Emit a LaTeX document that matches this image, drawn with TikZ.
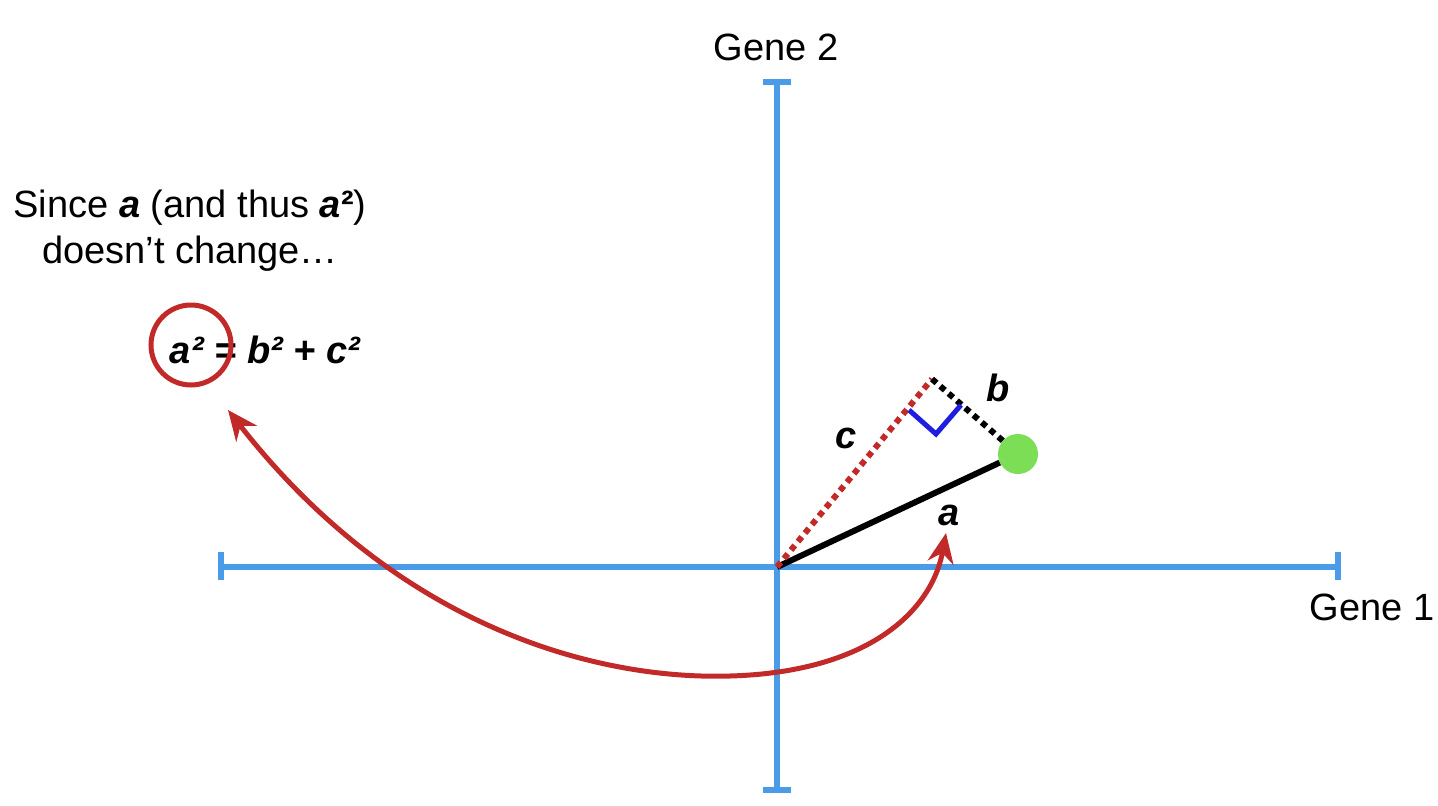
\documentclass[tikz,border=0pt]{standalone}
\usepackage{fontspec}
\setmainfont{Liberation Sans}
\usetikzlibrary{arrows.meta}
\definecolor{axisblue}{RGB}{74,155,232}
\definecolor{arrred}{RGB}{194,42,42}
\definecolor{dotgreen}{RGB}{124,222,84}
\definecolor{markblue}{RGB}{30,30,225}
\tikzset{
  axis/.style={axisblue, line width=6pt},
  tickbar/.style={axisblue, line width=6pt},
  lbl/.style={font=\fontsize{38}{46}\selectfont, inner sep=0pt},
  var/.style={font=\fontsize{38}{46}\selectfont\bfseries\itshape, inner sep=0pt},
  redarrow/.style={arrred, line width=5pt, {Stealth[length=30pt,width=26pt]}-{Stealth[length=30pt,width=26pt]}},
}
\begin{document}
\begin{tikzpicture}[x=1pt,y=-1pt]
\useasboundingbox (0,0) rectangle (1438,806);
% axes
\coordinate (O) at (777,567);
\coordinate (xl) at (221,567);
\coordinate (xr) at (1338,567);
\coordinate (yt) at (777,82);
\coordinate (yb) at (777,790);
\draw[axis] (xl) -- (xr);
\draw[axis] (yt) -- (yb);
\draw[tickbar] (221,552) -- (221,580);
\draw[tickbar] (1338,552) -- (1338,580);
\draw[tickbar] (763,82) -- (791,82);
\draw[tickbar] (763,790) -- (791,790);
\node[lbl] (g2) at (776,47) {Gene 2};
\node[lbl] (g1) at (1372,607) {Gene 1};
% triangle
\coordinate (P) at (932,379);
\node[circle, fill=dotgreen, minimum size=40pt, inner sep=0pt] (dot) at (1018,454) {};
\draw[black, line width=6pt] (O) -- (dot);
\draw[arrred, line width=6pt, dash pattern=on 6pt off 5pt] (O) -- (P);
\draw[black, line width=6pt, dash pattern=on 6pt off 5pt] (P) -- (dot);
\draw[markblue, line width=5pt] (909,410) -- (936,434) -- (961,405);
\node[var] (lc) at (846,438) {c};
\node[var] (lb) at (998,388) {b};
\node[var] (la) at (949,515) {a};
% text
\node[lbl, align=center] (txt) at (190,231) {Since \textbf{\textit{a}} (and thus \textbf{\textit{a}²})\\doesn’t change…};
\node[var] (eq) at (265,350) {a² = b² + c²};
\node[circle, draw=arrred, line width=5pt, minimum size=80pt, inner sep=0pt] (ring) at (191,345) {};
% arrow
\coordinate (tipL) at (228,410);
\coordinate (tipR) at (946,533);
\coordinate (low) at (730,676);
\draw[redarrow] (tipL) .. controls (400,630) and (600,680) .. (low) .. controls (870,672) and (932,610) .. (tipR);
\end{tikzpicture}
\end{document}
